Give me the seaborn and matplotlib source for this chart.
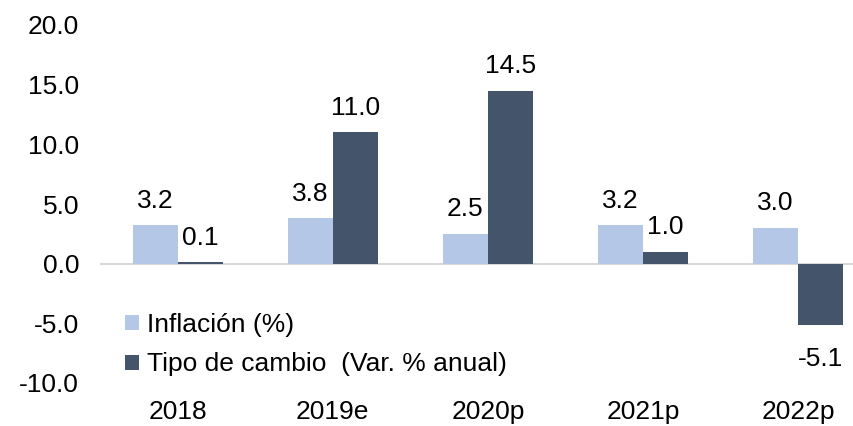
import pandas as pd
import numpy as np
import seaborn as sns
import matplotlib.pyplot as plt

sns.set_style("white")
plt.rcParams['font.family'] = ['Liberation Sans', 'DejaVu Sans']
plt.rcParams['text.color'] = 'black'
plt.rcParams['xtick.color'] = 'black'
plt.rcParams['ytick.color'] = 'black'

years = ['2018', '2019e', '2020p', '2021p', '2022p']
inflacion = [3.2, 3.8, 2.5, 3.2, 3.0]
tipo_cambio = [0.1, 11.0, 14.5, 1.0, -5.1]
series = ['Inflación (%)', 'Tipo de cambio  (Var. % anual)']
colors = ['#B4C7E7', '#44546A']

df = pd.DataFrame({
    'year': years * 2,
    'serie': [series[0]] * len(years) + [series[1]] * len(years),
    'valor': inflacion + tipo_cambio,
})

fs = 19

fig = plt.figure(figsize=(8.54, 4.26), dpi=100)
ax = fig.add_axes([100 / 854, 1 - 383 / 426, 1 - 100 / 854, 358 / 426])

sns.barplot(data=df, x='year', y='valor', hue='serie', palette=colors,
            width=0.58, gap=0, saturation=1, ax=ax, edgecolor='none')

for cont in ax.containers:
    labels = ax.bar_label(cont, fmt='%.1f', padding=9, fontsize=fs)
    # etiquetas negativas un poco más abajo
    for bar, lab in zip(cont, labels):
        if bar.get_height() < 0:
            lab.xyann = (0, -16)

ax.axhline(0, color='#D9D9D9', lw=1.5, zorder=0)
ax.set_ylim(-10, 20)
ax.set_yticks(np.arange(-10, 21, 5))
ax.set_yticklabels([f'{v:.1f}' for v in np.arange(-10, 21, 5)])
ax.set_xlim(-0.5, 4.36)
ax.set_xlabel('')
ax.set_ylabel('')
for s in ax.spines.values():
    s.set_visible(False)
ax.tick_params(axis='y', length=0, pad=15, labelsize=fs)
ax.tick_params(axis='x', length=0, pad=12, labelsize=fs)

leg = ax.legend(loc='lower left', bbox_to_anchor=(0.025, 0.0), frameon=False,
                fontsize=fs, handlelength=0.5, handleheight=0.5,
                handletextpad=0.3, labelspacing=0.6, borderaxespad=0.0,
                borderpad=0.25)

fig.savefig('out.png', dpi=100)
